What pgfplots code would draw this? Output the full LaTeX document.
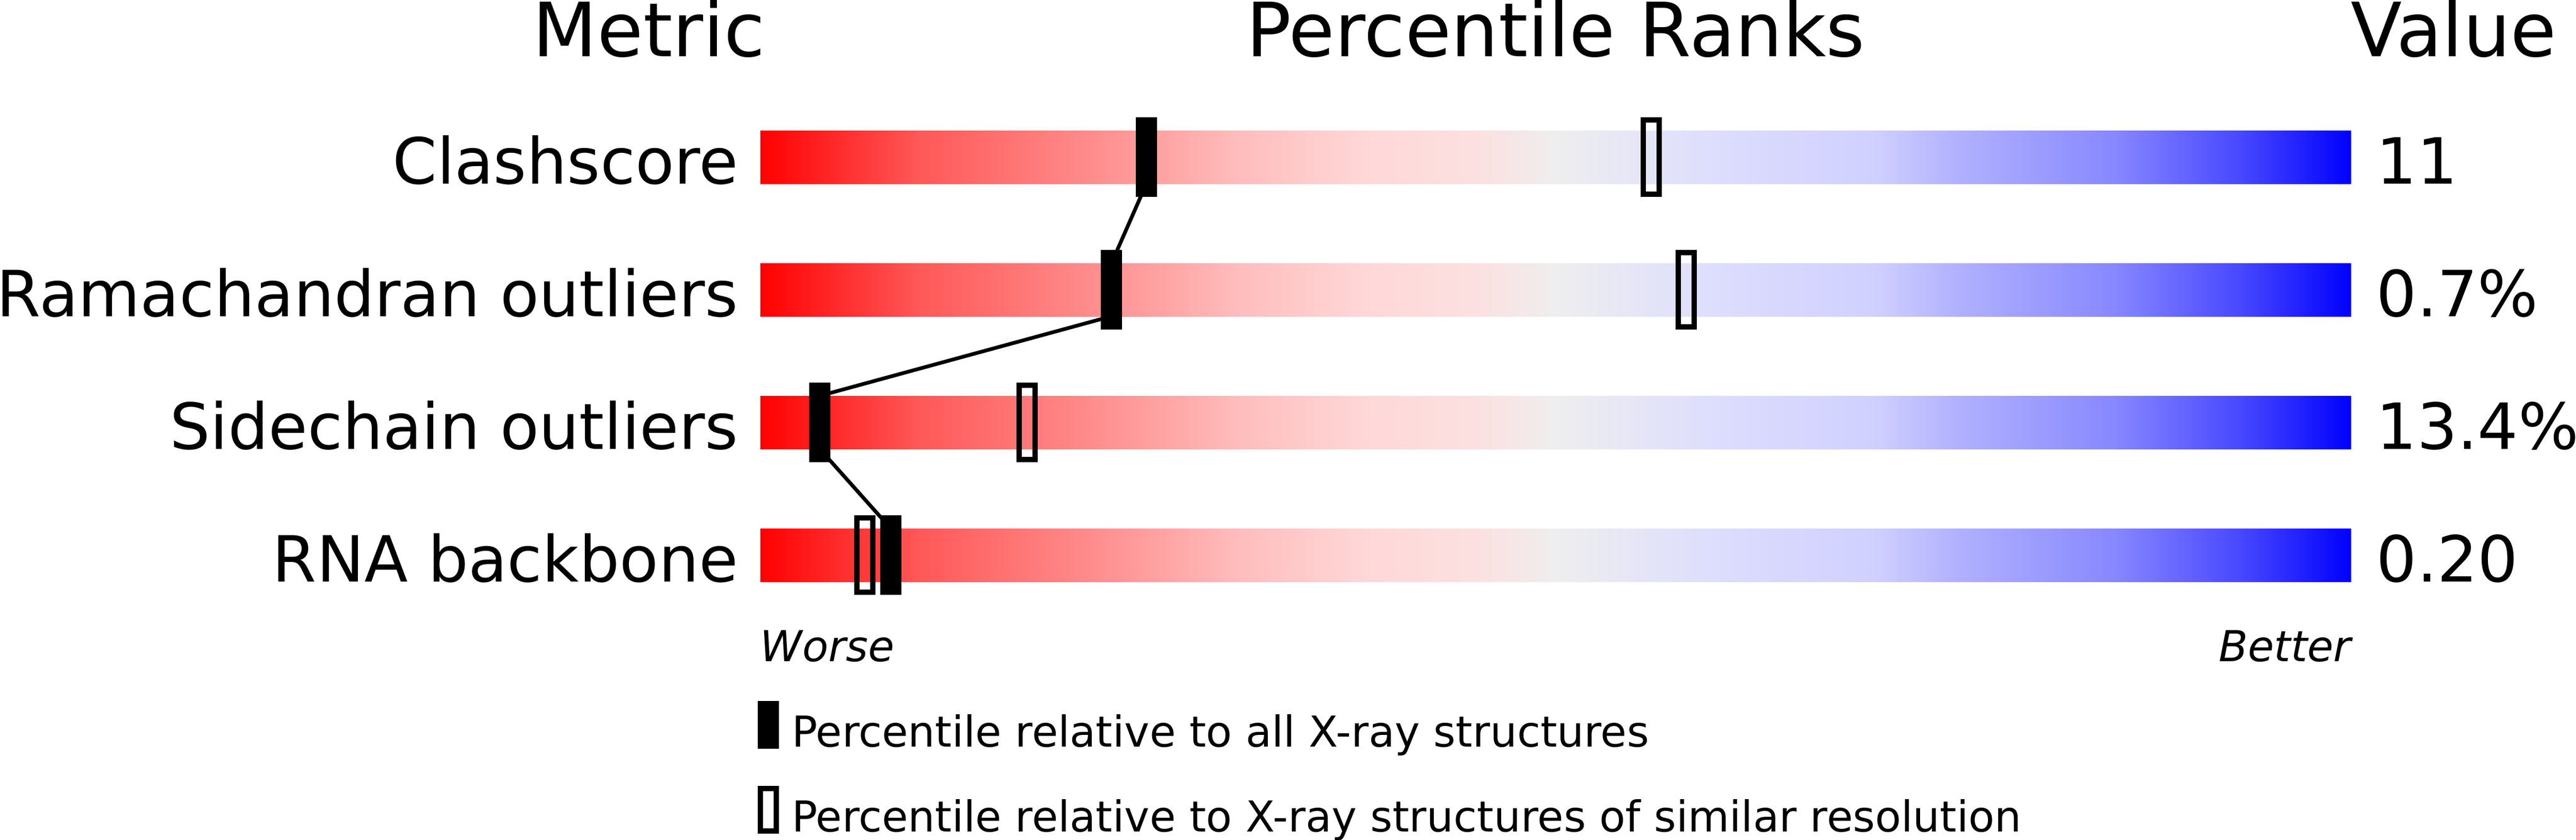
\documentclass[border=0pt]{standalone}
\usepackage{fontspec}
\setmainfont{DejaVu Sans}[ItalicFont={DejaVu Sans Oblique}]
\usepackage{pgfplots}
\pgfplotsset{compat=1.18}

% colour scale of the percentile bars
\definecolor{q00}{RGB}{255,0,0}
\definecolor{q10}{RGB}{255,88,88}
\definecolor{q20}{RGB}{255,136,136}
\definecolor{q30}{RGB}{255,188,188}
\definecolor{q38}{RGB}{255,215,215}
\definecolor{q45}{RGB}{252,224,224}
\definecolor{q50}{RGB}{238,238,238}
\definecolor{q60}{RGB}{221,221,254}
\definecolor{q70}{RGB}{208,208,255}
\definecolor{q75}{RGB}{178,178,255}
\definecolor{q85}{RGB}{136,136,255}
\definecolor{q93}{RGB}{72,72,255}
\definecolor{q100}{RGB}{0,0,255}
\pgfdeclarehorizontalshading{qual}{100bp}{color(0bp)=(q00); color(25bp)=(q00);
  color(30bp)=(q10); color(35bp)=(q20); color(40bp)=(q30); color(44bp)=(q38);
  color(47.5bp)=(q45); color(50bp)=(q50); color(55bp)=(q60); color(60bp)=(q70);
  color(62.5bp)=(q75); color(67.5bp)=(q85); color(71.5bp)=(q93);
  color(75bp)=(q100); color(100bp)=(q100)}

\pgfdeclareplotmark{pfull}{\pgfpathrectangle{\pgfpoint{-2pt}{-7.5pt}}{\pgfpoint{4pt}{15pt}}\pgfusepathqfill}
\pgfdeclareplotmark{popen}{\pgfpathrectangle{\pgfpoint{-1.5pt}{-7pt}}{\pgfpoint{3pt}{14pt}}\pgfusepathqstroke}

\newcommand\lab{\fontsize{12}{14}\selectfont}
\newcommand\hdr{\fontsize{14.1}{16}\selectfont}
\newcommand\sml{\fontsize{8.03}{9.5}\selectfont}
\tikzset{t/.style={inner sep=0pt, outer sep=0pt}}

\begin{document}
\begin{tikzpicture}
\begin{axis}[
    name=ax,
    scale only axis, width=300pt, height=158.3pt,
    xmin=0, xmax=100, ymin=0, ymax=1583, y dir=reverse,
    hide axis, clip=false,
  ]
  % bars
  \foreach \yc in {296,546,796,1046}{
    \edef\tmp{\noexpand\fill[shading=qual] (axis cs:0,\the\numexpr\yc-50\relax) rectangle (axis cs:100,\the\numexpr\yc+50\relax);}
    \tmp
  }
  % line joining the percentiles relative to all structures
  \addplot[black, line width=0.7pt] coordinates {(24.27,346) (22.07,496) (22.07,596) (3.73,746) (3.73,846) (8.2,996)};
  % similar resolution
  \addplot[only marks, mark=popen, mark options={draw=black, line width=1pt}]
    coordinates {(56.0,296) (58.2,546) (16.77,796) (6.57,1046)};
  % all X-ray structures
  \addplot[only marks, mark=pfull, black]
    coordinates {(24.27,296) (22.07,546) (3.73,796) (8.2,1046)};

  % headers
  \node[t, anchor=base east] at (axis cs:0.3,106) {\hdr Metric};
  \node[t, anchor=base] at (axis cs:50,106) {\hdr Percentile Ranks};
  \node[t, anchor=base west] at (axis cs:0,106) [xshift=300pt] {\hdr Value};
  % row labels and values
  \node[t, anchor=base east] at (axis cs:-1.4,346) {\lab Clashscore};
  \node[t, anchor=base east] at (axis cs:-1.4,596) {\lab Ramachandran outliers};
  \node[t, anchor=base east] at (axis cs:-1.4,846) {\lab Sidechain outliers};
  \node[t, anchor=base east] at (axis cs:-1.4,1096) {\lab RNA backbone};
  \node[t, anchor=base west] at (axis cs:101.6,346) {\lab 11};
  \node[t, anchor=base west] at (axis cs:101.6,596) {\lab 0.7\%};
  \node[t, anchor=base west] at (axis cs:101.6,846) {\lab 13.4\%};
  \node[t, anchor=base west] at (axis cs:101.6,1096) {\lab 0.20};
  % ends of the scale
  \node[t, anchor=base west] at (axis cs:0,1246) {\sml\itshape Worse};
  \node[t, anchor=base east] at (axis cs:100,1246) {\sml\itshape Better};
  % key
  \fill[black] (axis cs:-0.17,1321) rectangle (axis cs:1.17,1411);
  \draw[black, line width=1pt] (axis cs:0,1486) rectangle (axis cs:1,1566);
  \node[t, anchor=base west] at (axis cs:1.97,1407) {\sml Percentile relative to all X-ray structures};
  \node[t, anchor=base west] at (axis cs:1.97,1567) {\sml Percentile relative to X-ray structures of similar resolution};
\end{axis}
\pgfresetboundingbox
\path ([xshift=-143.4pt]ax.south west) rectangle ([xshift=42.4pt]ax.north east);
\end{tikzpicture}
\end{document}
